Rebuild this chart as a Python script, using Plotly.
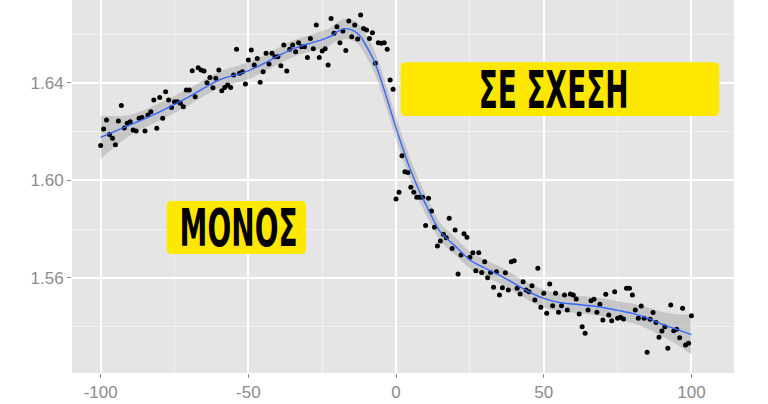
import plotly.graph_objects as go

# ---- data ----
pt_x = list(range(-100, 101))
pt_y = [
    1.6144, 1.6211, 1.6248, 1.6189, 1.6173, 1.6147, 1.6244, 1.6308, 1.6215, 1.6235,  # -100..-91
    1.6241, 1.6207, 1.6203, 1.6255, 1.6258, 1.6203, 1.6269, 1.6282, 1.6330, 1.6214,  # -90..-81
    1.6341, 1.6255, 1.6364, 1.6330, 1.6299, 1.6323, 1.6323, 1.6317, 1.6303, 1.6371,  # -80..-71
    1.6371, 1.6450, 1.6344, 1.6463, 1.6453, 1.6449, 1.6401, 1.6423, 1.6381, 1.6419,  # -70..-61
    1.6453, 1.6368, 1.6382, 1.6392, 1.6382, 1.6433, 1.6538, 1.6440, 1.6446, 1.6396,  # -60..-51
    1.6494, 1.6535, 1.6474, 1.6501, 1.6403, 1.6446, 1.6522, 1.6478, 1.6522, 1.6508,  # -50..-41
    1.6508, 1.6471, 1.6556, 1.6449, 1.6538, 1.6556, 1.6528, 1.6565, 1.6549, 1.6549,  # -40..-31
    1.6505, 1.6583, 1.6540, 1.6638, 1.6505, 1.6531, 1.6540, 1.6474, 1.6665, 1.6604,  # -30..-21
    1.6631, 1.6565, 1.6613, 1.6533, 1.6654, 1.6590, 1.6638, 1.6580, 1.6679, 1.6624,  # -20..-11
    1.6617, 1.6583, 1.6606, 1.6481, 1.6565, 1.6563, 1.6565, 1.6538, 1.6412, 1.6374,  # -10..-1
    1.5924, 1.5952, 1.6102, 1.6036, 1.6033, 1.5972, 1.5952, 1.5931, 1.5931, 1.5931,  # 0..9
    1.5815, 1.5927, 1.5875, 1.5808, 1.5731, 1.5752, 1.5779, 1.5765, 1.5845, 1.5721,  # 10..19
    1.5797, 1.5616, 1.5694, 1.5781, 1.5767, 1.5685, 1.5704, 1.5630, 1.5704, 1.5623,  # 20..29
    1.5667, 1.5601, 1.5623, 1.5562, 1.5626, 1.5530, 1.5560, 1.5622, 1.5551, 1.5667,  # 30..39
    1.5671, 1.5558, 1.5534, 1.5585, 1.5551, 1.5544, 1.5568, 1.5510, 1.5640, 1.5480,  # 40..49
    1.5537, 1.5455, 1.5575, 1.5486, 1.5537, 1.5459, 1.5486, 1.5530, 1.5469, 1.5534,  # 50..59
    1.5530, 1.5514, 1.5452, 1.5400, 1.5373, 1.5469, 1.5507, 1.5513, 1.5459, 1.5492,  # 60..69
    1.5428, 1.5533, 1.5448, 1.5425, 1.5544, 1.5435, 1.5439, 1.5432, 1.5558, 1.5558,  # 70..79
    1.5530, 1.5469, 1.5435, 1.5485, 1.5435, 1.5295, 1.5431, 1.5458, 1.5417, 1.5357,  # 80..89
    1.5383, 1.5400, 1.5312, 1.5489, 1.5384, 1.5390, 1.5355, 1.5476, 1.5325, 1.5332,  # 90..99
    1.5445,                                                                          # 100
]

smooth_x = [-100, -90, -80, -70, -60, -50, -40, -35, -30, -25, -22, -20, -17, -14, -12,
            -10, -8, -6, -4, -2, 0, 2, 4, 6, 8, 10, 12, 15, 20, 25, 30, 35, 40, 45, 50,
            55, 60, 65, 70, 75, 80, 85, 90, 95, 100]
smooth_y = [1.6177, 1.6228, 1.6282, 1.6344, 1.6412, 1.6450, 1.6510, 1.6540, 1.6560, 1.6578,
            1.6592, 1.6610, 1.6623, 1.6612, 1.6590, 1.6550, 1.6505, 1.6445, 1.6371, 1.6293,
            1.6215, 1.6142, 1.6072, 1.6010, 1.5953, 1.5904, 1.5854, 1.5789, 1.5731, 1.5674,
            1.5641, 1.5612, 1.5578, 1.5543, 1.5516, 1.5500, 1.5493, 1.5487, 1.5479, 1.5467,
            1.5455, 1.5436, 1.5411, 1.5389, 1.5368]
band_half = [0.0089, 0.0042, 0.0036, 0.0034, 0.0034, 0.0035, 0.0034, 0.0034, 0.0034, 0.0035,
             0.0036, 0.0038, 0.0042, 0.0042, 0.0042, 0.0044, 0.0045, 0.0045, 0.0045, 0.0045,
             0.0045, 0.0045, 0.0045, 0.0044, 0.0042, 0.0040, 0.0038, 0.0037, 0.0036, 0.0035,
             0.0035, 0.0035, 0.0035, 0.0035, 0.0036, 0.0036, 0.0036, 0.0036, 0.0037, 0.0038,
             0.0040, 0.0044, 0.0050, 0.0062, 0.0082]

x_ticks = [-100, -50, 0, 50, 100]
x_tick_labels = ["-100", "-50", "0", "50", "100"]
y_ticks = [1.56, 1.60, 1.64]
y_tick_labels = ["1.56", "1.60", "1.64"]

label_texts = ["ΣΕ ΣΧΕΣΗ", "ΜΟΝΟΣ"]

# ---- figure ----
band_lo = [y - h for y, h in zip(smooth_y, band_half)]
band_hi = [y + h for y, h in zip(smooth_y, band_half)]

fig = go.Figure()
fig.add_trace(go.Scatter(x=smooth_x, y=band_hi, mode="lines", line=dict(width=0, shape="spline"),
                         hoverinfo="skip", showlegend=False))
fig.add_trace(go.Scatter(x=smooth_x, y=band_lo, mode="lines", line=dict(width=0, shape="spline"),
                         fill="tonexty", fillcolor="rgba(153,153,153,0.40)",
                         hoverinfo="skip", showlegend=False))
fig.add_trace(go.Scatter(x=pt_x, y=pt_y, mode="markers",
                         marker=dict(color="black", size=5, line=dict(width=0)),
                         showlegend=False))
fig.add_trace(go.Scatter(x=smooth_x, y=smooth_y, mode="lines",
                         line=dict(color="#3366FF", width=1.4, shape="spline", smoothing=0.8),
                         showlegend=False))

axis_common = dict(
    showline=False, zeroline=False, ticks="outside", ticklen=4, tickwidth=1,
    tickcolor="#8C8C8C", gridcolor="#FFFFFF", gridwidth=1.5,
    tickfont=dict(family="Liberation Sans, Arial, sans-serif", size=17, color="#8C8C8C"),
)
fig.update_xaxes(range=[-109.7, 114.4], tickvals=x_ticks, ticktext=x_tick_labels,
                 minor=dict(dtick=25, tick0=0, showgrid=True, gridcolor="#F2F2F2", gridwidth=0.8,
                            ticks=""),
                 **axis_common)
fig.update_yaxes(range=[1.52102, 1.67405], tickvals=y_ticks, ticktext=y_tick_labels,
                 minor=dict(dtick=0.02, tick0=1.52, showgrid=True, gridcolor="#F2F2F2", gridwidth=0.8,
                            ticks=""),
                 **axis_common)

W, H = 768, 404
ml, mr, mt, mb = 72, 34, 0, 31
pw, ph = W - ml - mr, H - mt - mb

def px2paper(px, py):
    return (px - ml) / pw, 1 - (py - mt) / ph

def rounded_box(x0p, y0p, x1p, y1p, r=5):
    # pixel box -> rounded rectangle path in paper coordinates
    (ax0, ay0), (ax1, ay1) = px2paper(x0p, y1p), px2paper(x1p, y0p)
    rx, ry = r / pw, r / ph
    return (f"M {ax0+rx},{ay0} L {ax1-rx},{ay0} Q {ax1},{ay0} {ax1},{ay0+ry} "
            f"L {ax1},{ay1-ry} Q {ax1},{ay1} {ax1-rx},{ay1} L {ax0+rx},{ay1} "
            f"Q {ax0},{ay1} {ax0},{ay1-ry} L {ax0},{ay0+ry} Q {ax0},{ay0} {ax0+rx},{ay0} Z")

ann_font = dict(family="DejaVu Sans, sans-serif", size=52, color="black", weight="bold")
boxes = [(400.7, 62.3, 719.3, 116.0), (166.7, 201.0, 306.0, 254.0)]
text_centers = [(553, 89.5), (238.5, 227.5)]
for txt, (bx0, by0, bx1, by1), (tcx, tcy) in zip(label_texts, boxes, text_centers):
    fig.add_shape(type="path", path=rounded_box(bx0, by0, bx1, by1), xref="paper", yref="paper",
                  fillcolor="#FFE800", line=dict(width=0), layer="above")
    ax_, ay_ = px2paper(tcx, tcy)
    fig.add_annotation(x=ax_, y=ay_, xref="paper", yref="paper", text=txt, showarrow=False,
                       xanchor="center", yanchor="middle", borderpad=0, font=ann_font)

fig.update_layout(
    width=W, height=H, margin=dict(l=ml, r=mr, t=mt, b=mb),
    paper_bgcolor="white", plot_bgcolor="#E5E5E5",
)

post = """
document.body.style.margin='0';
var gd = document.getElementById('{plot_id}');
var targets = [150, 118];
var texts = gd.querySelectorAll('.annotation-text');
texts.forEach(function(t, i){
  var bb = t.getBBox();
  var s = targets[i] / bb.width;
  var cx = bb.x + bb.width/2;
  t.setAttribute('transform', 'translate('+cx+',0) scale('+s+',1) translate('+(-cx)+',0)');
});
"""
fig.write_html("out.html", post_script=post, config={"displayModeBar": False})
